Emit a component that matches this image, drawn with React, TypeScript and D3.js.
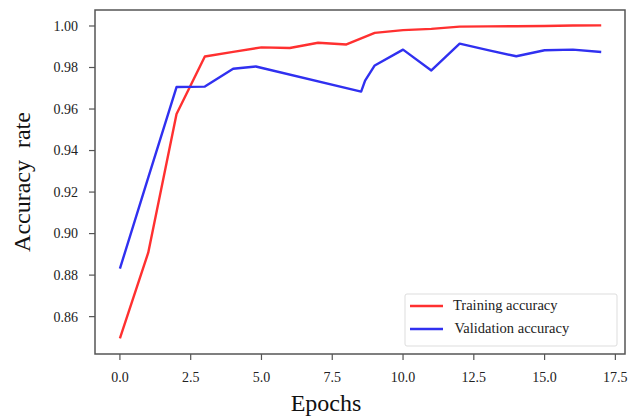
import React from 'react';
import * as d3 from 'd3';

// training accuracy, one value per epoch
const trainEpochs = [0, 1, 2, 3, 4, 5, 6, 7, 8, 9, 10, 11, 12, 13, 14, 15, 16, 17];
const trainAcc = [0.8495, 0.8908, 0.9576, 0.9853, 0.9875, 0.9897, 0.9894, 0.9919, 0.9911, 0.9967, 0.998, 0.9986, 0.9997, 0.9998, 0.9999, 1.0, 1.0002, 1.0003];

// validation accuracy
const valEpochs = [0, 1, 2, 3, 4, 4.8, 8.52, 8.66, 9, 10, 11, 12, 13, 14, 15, 16, 17];
const valAcc = [0.8831, 0.927, 0.9706, 0.9708, 0.9794, 0.9805, 0.9684, 0.9737, 0.981, 0.9886, 0.9786, 0.9915, 0.9884, 0.9854, 0.9883, 0.9886, 0.9875];

const xTicks = [0, 2.5, 5, 7.5, 10, 12.5, 15, 17.5];
const yTicks = [0.86, 0.88, 0.9, 0.92, 0.94, 0.96, 0.98, 1.0];

const seriesNames = ['Training accuracy', 'Validation accuracy'];
const seriesColors = ['#ff3030', '#3030f0'];

const width = 630;
const height = 418;
const margin = { top: 10, right: 5, bottom: 64, left: 95 };
const font = '"Liberation Serif", "Times New Roman", serif';

const App = () => {
  const plotW = width - margin.left - margin.right;
  const plotH = height - margin.top - margin.bottom;

  const x = d3.scaleLinear().domain([-0.88, 17.84]).range([0, plotW]);
  const y = d3.scaleLinear().domain([0.842, 1.0077]).range([plotH, 0]);

  const line = d3.line<[number, number]>()
    .x(d => x(d[0]))
    .y(d => y(d[1]));

  const trainPts = trainEpochs.map((e, i) => [e, trainAcc[i]] as [number, number]);
  const valPts = valEpochs.map((e, i) => [e, valAcc[i]] as [number, number]);

  const frame = '#555';

  return (
    <svg width={width} height={height} style={{ position: 'absolute', left: 0, top: 0, background: '#fff' }}>
      <g transform={`translate(${margin.left},${margin.top})`}>
        <path d={line(trainPts) ?? ''} fill="none" stroke={seriesColors[0]} strokeWidth={2.4} strokeLinejoin="round" />
        <path d={line(valPts) ?? ''} fill="none" stroke={seriesColors[1]} strokeWidth={2.4} strokeLinejoin="round" />

        <rect x={0} y={0} width={plotW} height={plotH} fill="none" stroke={frame} strokeWidth={1.5} />

        {/* y axis */}
        {yTicks.map(t => (
          <g key={t} transform={`translate(0,${y(t)})`}>
            <line x1={-6} x2={0} stroke={frame} strokeWidth={1.2} />
            <text x={-17} dy="0.35em" textAnchor="end" fontFamily={font} fontSize={14} fill="#222">
              {t.toFixed(2)}
            </text>
          </g>
        ))}

        {/* x axis */}
        {xTicks.map(t => (
          <g key={t} transform={`translate(${x(t)},${plotH})`}>
            <line y1={0} y2={6} stroke={frame} strokeWidth={1.2} />
            <text y={28} textAnchor="middle" fontFamily={font} fontSize={14} fill="#222">
              {t.toFixed(1)}
            </text>
          </g>
        ))}

        {/* legend */}
        <g transform={`translate(${plotW - 220},${plotH - 60})`}>
          <rect x={0} y={0} width={212} height={52} rx={2} fill="#fff" stroke="#ddd" strokeWidth={1} />
          {seriesNames.map((name, i) => (
            <g key={name} transform={`translate(0,${12 + i * 23})`}>
              <line x1={5} x2={38} stroke={seriesColors[i]} strokeWidth={2.4} />
              <text x={48 + i * 1.5} dy="0.3em" fontFamily={font} fontSize={14.5} fill="#222">{name}</text>
            </g>
          ))}
        </g>
      </g>

      <text
        transform={`translate(30,${margin.top + plotH / 2}) rotate(-90)`}
        textAnchor="middle"
        fontFamily={font}
        fontSize={24}
        fill="#111"
        style={{ whiteSpace: 'pre' }}
      >
        {'Accuracy  rate'}
      </text>
      <text x={margin.left + plotW / 2 - 34} y={411} textAnchor="middle" fontFamily={font} fontSize={24} fill="#111">
        Epochs
      </text>
    </svg>
  );
};

export default App;
